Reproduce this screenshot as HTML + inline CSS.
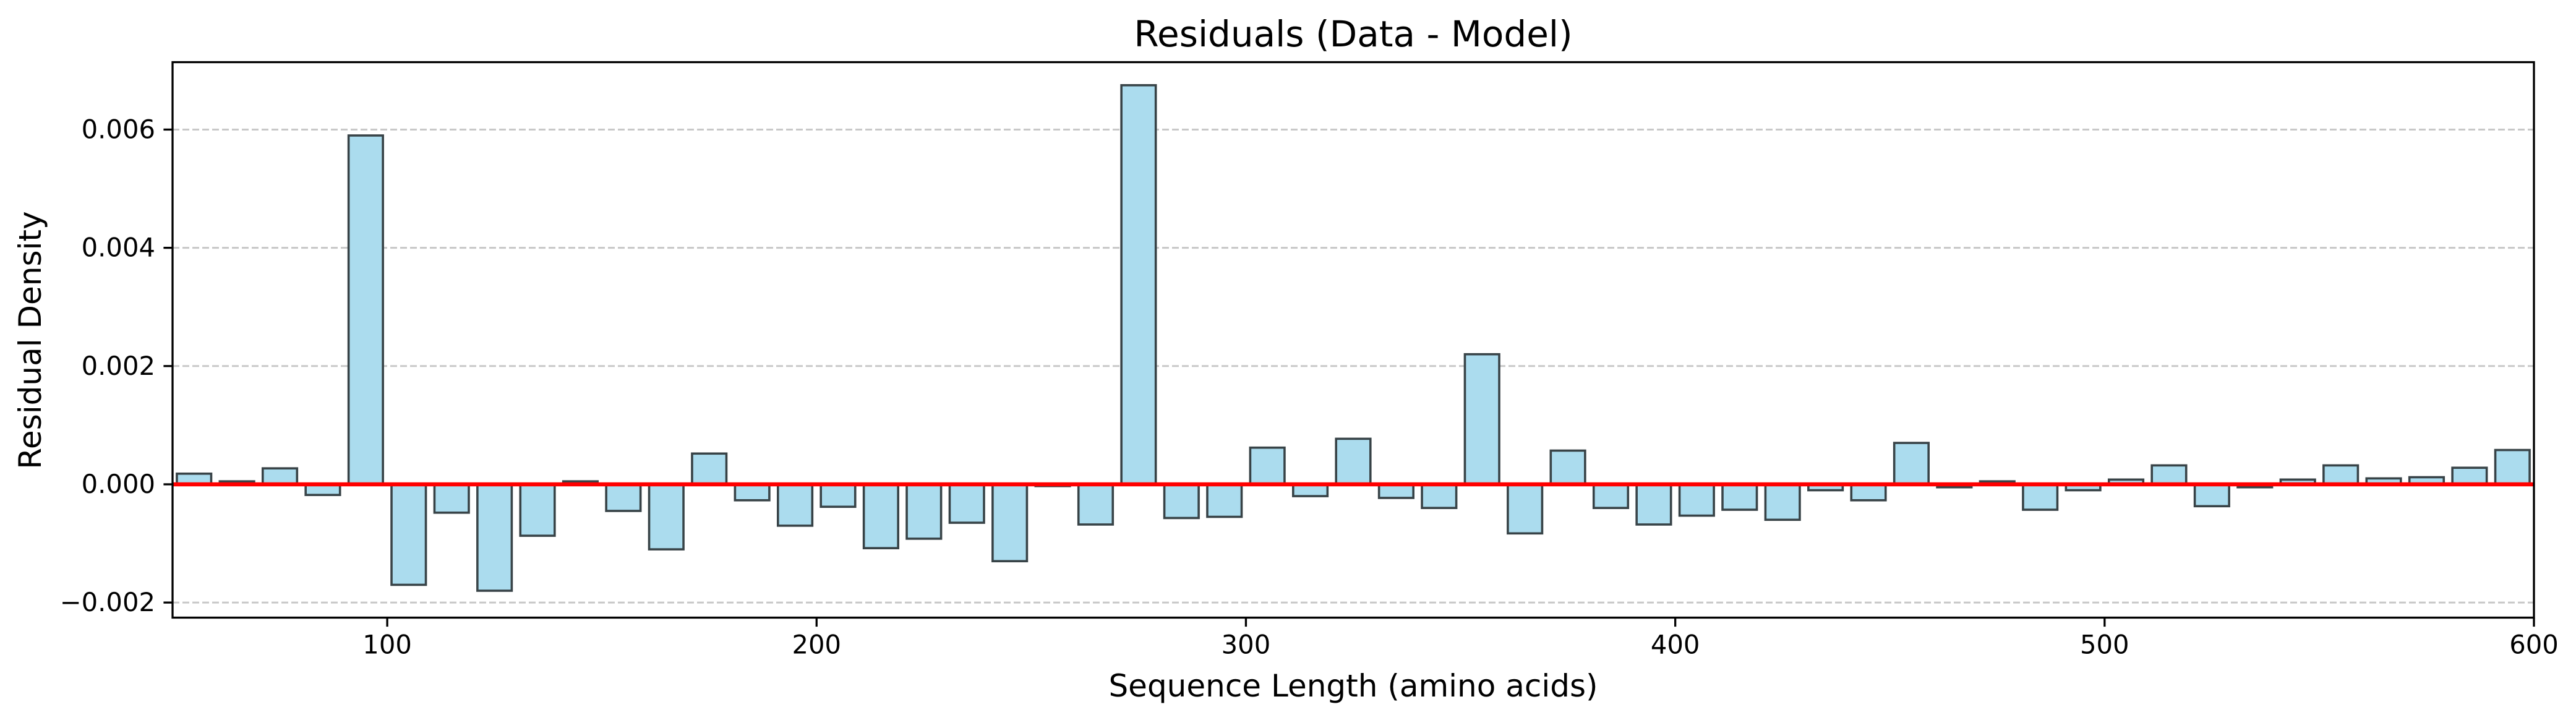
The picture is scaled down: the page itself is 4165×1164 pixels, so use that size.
<!DOCTYPE html>
<html><head><meta charset="utf-8"><style>
html,body{margin:0;padding:0;background:#fff;}
svg{display:block;font-family:"DejaVu Sans","Liberation Sans",sans-serif;}
</style></head><body>
<svg id="chart" width="4165" height="1164" viewBox="0 0 4165 1164" xmlns="http://www.w3.org/2000/svg">
<rect width="4165" height="1164" fill="#fff"/>
<g id="grid"></g>
<g id="bars"></g>
<g id="zero"></g>
<g id="axes"></g>
<text x="2188" y="75" font-size="58" text-anchor="middle">Residuals (Data - Model)</text>
<text x="2188" y="1126" font-size="50" text-anchor="middle">Sequence Length (amino acids)</text>
<text x="0" y="0" font-size="50" text-anchor="middle" transform="translate(66,550) rotate(-90)">Residual Density</text>
</svg>
<script>
const categories = [55,65,75,85,95,105,115,125,135,145,155,165,175,185,195,205,215,225,235,245,255,265,275,285,295,305,315,325,335,345,355,365,375,385,395,405,415,425,435,445,455,465,475,485,495,505,515,525,535,545,555,565,575,585,595];
const residuals = [0.00018,0.00005,0.00027,-0.00018,0.0059,-0.0017,-0.00048,-0.0018,-0.00087,0.00005,-0.00045,-0.0011,0.00052,-0.00027,-0.0007,-0.00038,-0.00108,-0.00092,-0.00065,-0.0013,-0.00003,-0.00068,0.00675,-0.00057,-0.00055,0.00062,-0.0002,0.00077,-0.00023,-0.0004,0.0022,-0.00083,0.00057,-0.0004,-0.00068,-0.00053,-0.00043,-0.0006,-0.0001,-0.00027,0.0007,-0.00005,0.00005,-0.00043,-0.0001,0.00008,0.00032,-0.00037,-0.00005,0.00008,0.00032,0.0001,0.00012,0.00028,0.00058];
const xTicks = [100,200,300,400,500,600];
const yTicks = [-0.002,0,0.002,0.004,0.006];
const yTickLabels = ["\u22120.002","0.000","0.002","0.004","0.006"];
const barWidth = 8;

const L=279,R=4097,T=100.5,B=998.5;
const xMin=50,xMax=600,yMin=-0.002255,yMax=0.00714;
const sx=v=>L+(v-xMin)/(xMax-xMin)*(R-L);
const sy=v=>B-(v-yMin)/(yMax-yMin)*(B-T);
const NS="http://www.w3.org/2000/svg";
function mk(tag,attrs,parent){const e=document.createElementNS(NS,tag);for(const k in attrs)e.setAttribute(k,attrs[k]);parent.appendChild(e);return e;}
const grid=document.getElementById('grid'),bars=document.getElementById('bars'),axes=document.getElementById('axes'),zero=document.getElementById('zero');

yTicks.forEach((t,i)=>{
  const y=sy(t);
  const g=mk('line',{x1:L,x2:R,y1:y,y2:y,stroke:'#c8c8c8','stroke-width':3,'stroke-dasharray':'11,5'},grid);
  
  
  const tk=mk('line',{x1:L-14.6,x2:L,y1:y,y2:y,stroke:'#000','stroke-width':3.3},axes);
  
  
  const lb=mk('text',{x:L-28,y:y+14,'font-size':41.7,'text-anchor':'end'},axes);
  lb.textContent=yTickLabels[i];
  
  
});
xTicks.forEach(t=>{
  const x=sx(t);
  const tk=mk('line',{x1:x,x2:x,y1:B,y2:B+14.6,stroke:'#000','stroke-width':3.3},axes);
  
  
  const lb=mk('text',{x:x,y:B+58,'font-size':41.7,'text-anchor':'middle'},axes);
  lb.textContent=t;
  
  
});
categories.forEach((c,i)=>{
  const v=residuals[i];
  const x0=sx(c-barWidth/2),x1=sx(c+barWidth/2);
  const y0=sy(Math.max(v,0)),y1=sy(Math.min(v,0));
  const r=mk('rect',{x:x0,y:y0,width:x1-x0,height:Math.max(y1-y0,0.5),fill:'#abdcee',stroke:'#384347','stroke-width':3.6},bars);
  
  
});
const zl=mk('line',{x1:L,x2:R,y1:sy(0),y2:sy(0),stroke:'#ff0000','stroke-width':6.5},zero);


const fr=mk('rect',{x:L,y:T,width:R-L,height:B-T,fill:'none',stroke:'#000','stroke-width':3.3},axes);


</script>
</body></html>
